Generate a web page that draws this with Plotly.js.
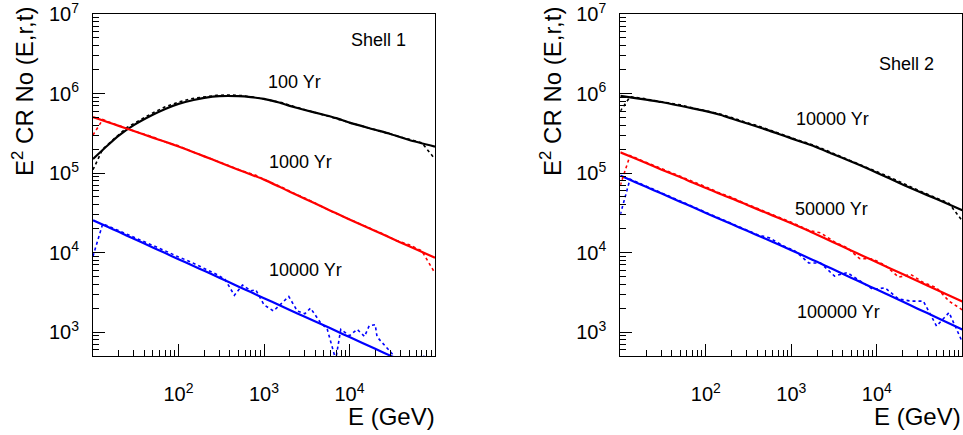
<!DOCTYPE html>
<html><head><meta charset="utf-8">
<script src="https://cdn.plot.ly/plotly-3.0.1.min.js"></script>
<style>html,body{margin:0;padding:0;background:#fff}#chart{width:963px;height:435px}</style>
</head><body><div id="chart"></div>
<script>
// ---- data (E in GeV, values = E^2 CR No) ----
const energyGeV = [10, 15, 20, 30, 50, 70, 100, 150, 200, 300, 500, 700, 1000, 1500, 2000, 3000, 5000, 7000, 1e4, 2e4, 3e4, 5e4, 1e5];

// Shell 1 – analytic curves
const shell1_100yr   = [1.5e5, 2.25e5, 2.95e5, 4.0e5, 5.4e5, 6.4e5, 7.4e5, 8.3e5, 8.8e5, 9.25e5, 9.25e5, 9.0e5, 8.55e5, 7.7e5, 7.0e5, 6.2e5, 5.4e5, 4.9e5, 4.3e5, 3.5e5, 3.1e5, 2.6e5, 2.15e5];
const shell1_1000yr  = [5.06e5, 4.36e5, 3.92e5, 3.37e5, 2.79e5, 2.47e5, 2.16e5, 1.83e5, 1.62e5, 1.37e5, 1.10e5, 9.6e4, 8.26e4, 6.75e4, 5.83e4, 4.76e4, 3.68e4, 3.11e4, 2.6e4, 1.87e4, 1.53e4, 1.2e4, 8.6e3];
const shell1_10000yr = [2.55e4, 2.09e4, 1.82e4, 1.49e4, 1.16e4, 9.84e3, 8.26e3, 6.77e3, 5.89e3, 4.82e3, 3.75e3, 3.18e3, 2.67e3, 2.19e3, 1.90e3, 1.56e3, 1.22e3, 1.03e3, 865, 616, 505, 394, 280];

// Shell 2 – analytic curves
const shell2_10000yr  = [9.35e5, 8.77e5, 8.36e5, 7.83e5, 7.02e5, 6.5e5, 6.0e5, 5.37e5, 4.86e5, 4.22e5, 3.54e5, 3.12e5, 2.73e5, 2.35e5, 2.10e5, 1.75e5, 1.40e5, 1.20e5, 1.01e5, 7.2e4, 5.95e4, 4.7e4, 3.4e4];
const shell2_50000yr  = [1.82e5, 1.52e5, 1.34e5, 1.11e5, 8.9e4, 7.6e4, 6.5e4, 5.4e4, 4.8e4, 4.0e4, 3.18e4, 2.74e4, 2.33e4, 1.93e4, 1.67e4, 1.37e4, 1.06e4, 9.0e3, 7.55e3, 5.36e3, 4.38e3, 3.4e3, 2.42e3];
const shell2_100000yr = [9.3e4, 7.67e4, 6.7e4, 5.55e4, 4.36e4, 3.73e4, 3.15e4, 2.61e4, 2.28e4, 1.89e4, 1.49e4, 1.27e4, 1.07e4, 8.8e3, 7.64e3, 6.24e3, 4.83e3, 4.08e3, 3.42e3, 2.42e3, 1.97e3, 1.53e3, 1.08e3];

// Simulated (dash-dot) spectra
const simEnergyGeV = [10, 13, 18, 25, 35, 50, 70, 100, 140, 200, 280, 400, 560, 800, 1100, 1600, 2200, 3200, 4500, 6300, 9000, 1.25e4, 1.8e4, 2.5e4, 3.5e4, 5e4, 7e4, 1e5];
const sim1_100yr  = [1.1e5, 2.0e5, 2.75e5, 3.75e5, 4.6e5, 5.7e5, 6.8e5, 7.8e5, 8.6e5, 9.1e5, 9.5e5, 9.6e5, 9.4e5, 8.9e5, 8.4e5, 7.7e5, 6.9e5, 6.2e5, 5.6e5, 5.0e5, 4.45e5, 4.05e5, 3.6e5, 3.3e5, 2.95e5, 2.65e5, 2.4e5, 1.5e5];
const sim1_1000yr = [3.0e5, 4.7e5, 4.1e5, 3.6e5, 3.2e5, 2.85e5, 2.45e5, 2.2e5, 1.88e5, 1.63e5, 1.42e5, 1.22e5, 1.06e5, 9.4e4, 7.9e4, 6.7e4, 5.6e4, 4.7e4, 3.9e4, 3.25e4, 2.75e4, 2.35e4, 2.0e4, 1.7e4, 1.42e4, 1.25e4, 1.05e4, 5.5e3];
const sim1EnergyBlue = [10, 13, 18, 25, 35, 50, 70, 100, 140, 200, 280, 350, 450, 560, 700, 800, 1000, 1290, 1600, 1950, 2450, 3000, 3500, 4500, 5500, 6900, 7900, 1e4, 1.23e4, 1.5e4, 1.7e4, 2.0e4, 2.1e4, 2.5e4, 3e4, 4e4, 6e4, 7.2e4, 8e4];
const sim1_10000yr = [9e3, 2.3e4, 1.98e4, 1.7e4, 1.45e4, 1.25e4, 1.05e4, 8.8e3, 7.6e3, 6.3e3, 5.3e3, 4.6e3, 2.9e3, 3.9e3, 3.3e3, 3.4e3, 2.2e3, 1.84e3, 2.3e3, 2.8e3, 1.84e3, 1.7e3, 2.0e3, 1.35e3, 1.08e3, 450, 1.08e3, 900, 1.08e3, 880, 1.2e3, 1.24e3, 870, 700, 560, 400, 420, 520, 420];
const sim2_10000yr  = [6e5, 9.1e5, 8.7e5, 8.2e5, 7.8e5, 7.2e5, 6.6e5, 6.1e5, 5.6e5, 5.0e5, 4.4e5, 3.95e5, 3.45e5, 3.05e5, 2.68e5, 2.35e5, 2.07e5, 1.74e5, 1.5e5, 1.3e5, 1.09e5, 9.4e4, 7.8e4, 6.7e4, 5.7e4, 4.8e4, 4.15e4, 2.5e4];
const sim2_50000yr  = [7e4, 1.66e5, 1.43e5, 1.24e5, 1.07e5, 9.1e4, 7.8e4, 6.7e4, 5.7e4, 4.95e4, 4.2e4, 3.6e4, 3.1e4, 2.65e4, 2.3e4, 1.9e4, 1.77e4, 1.36e4, 1.15e4, 8.4e3, 8.3e3, 6.9e3, 4.9e3, 5.3e3, 4.2e3, 3.6e3, 2.45e3, 1.9e3];
const sim2_100000yr = [3e4, 8.4e4, 7.2e4, 6.2e4, 5.3e4, 4.45e4, 3.8e4, 3.2e4, 2.75e4, 2.33e4, 2.0e4, 1.68e4, 1.52e4, 1.22e4, 1.05e4, 7.4e3, 7.4e3, 5.06e3, 5.6e3, 4.4e3, 3.45e3, 3.6e3, 2.6e3, 2.45e3, 2.45e3, 1.19e3, 1.76e3, 750];

// Tick labels
const xTickVals = [10, 100, 1000, 10000, 100000];
const xTickText = ['', '10<sup>2</sup>', '10<sup>3</sup>', '10<sup>4</sup>', ''];
const yTickVals = [1e3, 1e4, 1e5, 1e6, 1e7];
const yTickText = ['10<sup>3</sup>', '10<sup>4</sup>', '10<sup>5</sup>', '10<sup>6</sup>', '10<sup>7</sup>'];

// Text labels
const panelLabels = ['Shell 1', 'Shell 2'];
const curveLabels1 = ['100 Yr', '1000 Yr', '10000 Yr'];
const curveLabels2 = ['10000 Yr', '50000 Yr', '100000 Yr'];
const yTitle = 'E<sup>2</sup> CR No (E,r,t)';
const xTitle = 'E (GeV)';

// ---- build ----
function minorVals(loExp, hiExp, startMult) {
  const v = [];
  for (let e = loExp; e < hiExp; e++) {
    for (let m = 2; m <= 9; m++) {
      if (e === loExp && m < startMult) continue;
      v.push(m * Math.pow(10, e));
    }
  }
  return v;
}
const xMinor = minorVals(1, 5, 2);
const yMinor = minorVals(2, 7, 5);

const BLACK = '#000000', RED = '#ff0000', BLUE = '#0000ff';
function solid(x, y, c, ax) {
  return {x: x, y: y, type: 'scatter', mode: 'lines', line: {color: c, width: 2.2, shape: 'spline', smoothing: 0.6},
          xaxis: ax[0], yaxis: ax[1], hoverinfo: 'skip'};
}
function sim(x, y, c, ax) {
  return {x: x, y: y, type: 'scatter', mode: 'lines', line: {color: c, width: 1.6, dash: 'dot'},
          xaxis: ax[0], yaxis: ax[1], hoverinfo: 'skip'};
}
const A1 = ['x', 'y'], A2 = ['x2', 'y2'];
const data = [
  solid(energyGeV, shell1_100yr, BLACK, A1),
  solid(energyGeV, shell1_1000yr, RED, A1),
  solid(energyGeV, shell1_10000yr, BLUE, A1),
  sim(simEnergyGeV, sim1_100yr, BLACK, A1),
  sim(simEnergyGeV, sim1_1000yr, RED, A1),
  sim(sim1EnergyBlue, sim1_10000yr, BLUE, A1),
  solid(energyGeV, shell2_10000yr, BLACK, A2),
  solid(energyGeV, shell2_50000yr, RED, A2),
  solid(energyGeV, shell2_100000yr, BLUE, A2),
  sim(simEnergyGeV, sim2_10000yr, BLACK, A2),
  sim(simEnergyGeV, sim2_50000yr, RED, A2),
  sim(simEnergyGeV, sim2_100000yr, BLUE, A2)
];

const FONT = 'Liberation Sans, Arial, sans-serif';
function xax(domain, anchor) {
  return {type: 'log', domain: domain, anchor: anchor, range: [1, 5],
    tickmode: 'array', tickvals: xTickVals, ticktext: xTickText,
    ticks: 'inside', ticklen: 12, tickwidth: 1, tickcolor: '#000',
    minor: {tickmode: 'array', tickvals: xMinor, ticks: 'inside', ticklen: 6, tickwidth: 1, tickcolor: '#000', showgrid: false},
    showline: true, mirror: true, linecolor: '#000', linewidth: 1,
    showgrid: false, zeroline: false, ticklabelstandoff: 20, ticklabeloverflow: 'allow',
    tickfont: {family: FONT, size: 20, color: '#000'}, fixedrange: true};
}
function yax(anchor) {
  return {type: 'log', domain: [0, 1], anchor: anchor, range: [Math.log10(500), 7],
    tickmode: 'array', tickvals: yTickVals, ticktext: yTickText,
    ticks: 'inside', ticklen: 12, tickwidth: 1, tickcolor: '#000',
    minor: {tickmode: 'array', tickvals: yMinor, ticks: 'inside', ticklen: 6, tickwidth: 1, tickcolor: '#000', showgrid: false},
    showline: true, mirror: true, linecolor: '#000', linewidth: 1,
    showgrid: false, zeroline: false, ticklabelstandoff: 9, ticklabeloverflow: 'allow',
    tickfont: {family: FONT, size: 20, color: '#000'}, fixedrange: true};
}

const txt = () => ({family: FONT, size: 18, color: '#000'});
const TF = {family: FONT, size: 24, color: '#000'};
const annotations = [
  {text: panelLabels[0], xref: 'x', yref: 'y', x: 4.34, y: 6.674, showarrow: false, font: txt()},
  {text: curveLabels1[0], xref: 'x', yref: 'y', x: 3.362, y: 6.147, showarrow: false, font: txt()},
  {text: curveLabels1[1], xref: 'x', yref: 'y', x: 3.427, y: 5.143, showarrow: false, font: txt()},
  {text: curveLabels1[2], xref: 'x', yref: 'y', x: 3.485, y: 3.775, showarrow: false, font: txt()},
  {text: panelLabels[1], xref: 'x2', yref: 'y2', x: 4.342, y: 6.373, showarrow: false, font: txt()},
  {text: curveLabels2[0], xref: 'x2', yref: 'y2', x: 3.482, y: 5.676, showarrow: false, font: txt()},
  {text: curveLabels2[1], xref: 'x2', yref: 'y2', x: 3.47, y: 4.545, showarrow: false, font: txt()},
  {text: curveLabels2[2], xref: 'x2', yref: 'y2', x: 3.548, y: 3.248, showarrow: false, font: txt()},
  // axis titles
  {text: yTitle, xref: 'paper', yref: 'paper', x: 23/963, y: 1.025, xanchor: 'center', yanchor: 'top', textangle: -90, showarrow: false, font: TF},
  {text: yTitle, xref: 'paper', yref: 'paper', x: 551/963, y: 1.025, xanchor: 'center', yanchor: 'top', textangle: -90, showarrow: false, font: TF},
  {text: xTitle, xref: 'paper', yref: 'paper', x: 437/963, y: -0.178, xanchor: 'right', yanchor: 'middle', showarrow: false, font: TF},
  {text: xTitle, xref: 'paper', yref: 'paper', x: 963/963, y: -0.178, xanchor: 'right', yanchor: 'middle', showarrow: false, font: TF}
];

const layout = {
  width: 963, height: 435,
  margin: {l: 0, r: 0, t: 14, b: 79, pad: 0},
  paper_bgcolor: '#fff', plot_bgcolor: '#fff',
  showlegend: false, hovermode: false,
  xaxis: xax([93/963, 435/963], 'y'),
  yaxis: yax('x'),
  xaxis2: xax([620.3/963, 962.3/963], 'y2'),
  yaxis2: yax('x2'),
  annotations: annotations
};
Plotly.newPlot('chart', data, layout, {staticPlot: true, displayModeBar: false});
</script></body></html>
